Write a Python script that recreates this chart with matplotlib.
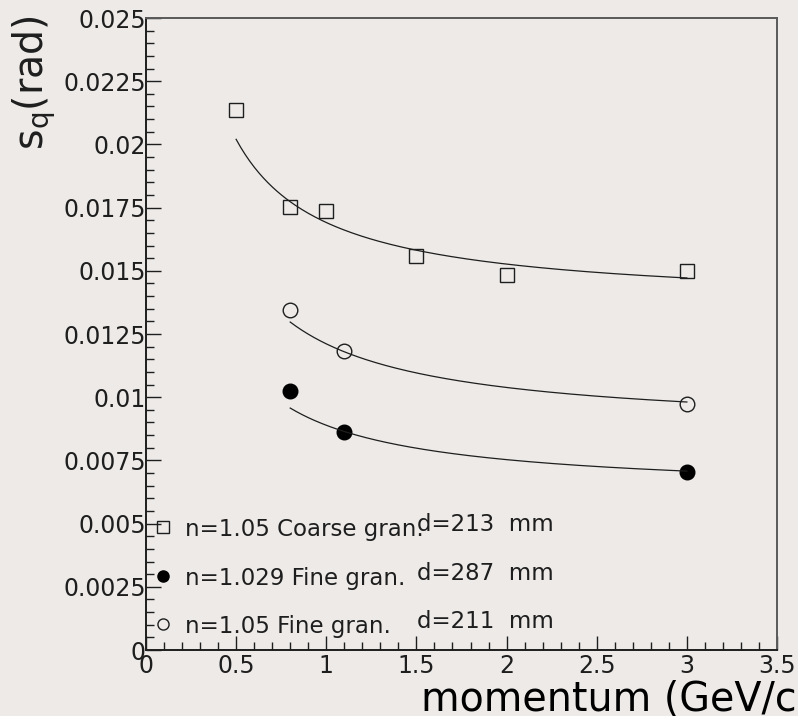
import numpy as np
import matplotlib
matplotlib.use("Agg")
import matplotlib.pyplot as plt
from matplotlib.ticker import MultipleLocator

plt.rcParams['font.family'] = ['DejaVu Sans']
plt.rcParams['mathtext.default'] = 'regular'

# measured resolution vs momentum
p_coarse = [0.5, 0.8, 1.0, 1.5, 2.0, 3.0]
s_coarse = [0.02135, 0.01752, 0.01737, 0.01559, 0.01483, 0.01500]

p_fine105 = [0.8, 1.1, 3.0]
s_fine105 = [0.01345, 0.01183, 0.00975]

p_fine1029 = [0.8, 1.1, 3.0]
s_fine1029 = [0.01025, 0.00864, 0.00705]

# fits s = a + b/p over the measured range
fit_a = [0.01362, 0.00866, 0.00617]
fit_b = [0.00329, 0.00345, 0.00272]
fit_range = [(0.5, 3.0), (0.8, 3.0), (0.8, 3.0)]

legend_labels = ["n=1.05 Coarse gran.", "n=1.029 Fine gran.", "n=1.05 Fine gran."]
legend_d = ["d=213  mm", "d=287  mm", "d=211  mm"]

xticks = [0, 0.5, 1, 1.5, 2, 2.5, 3, 3.5]
xtick_labels = ['0', '0.5', '1', '1.5', '2', '2.5', '3', '3.5']
yticks = [0, 0.0025, 0.005, 0.0075, 0.01, 0.0125, 0.015, 0.0175, 0.02, 0.0225, 0.025]
ytick_labels = ['0', '0.0025', '0.005', '0.0075', '0.01', '0.0125', '0.015',
                '0.0175', '0.02', '0.0225', '0.025']

bg = '#edeae8'
ink = '#1e1e1e'
fig = plt.figure(figsize=(7.98, 7.16), dpi=100, facecolor=bg)
ax = fig.add_axes([146/798, 1 - 650/716, (777 - 146)/798, (650 - 18)/716])
ax.set_facecolor(bg)

ax.plot(p_coarse, s_coarse, ls='none', marker='s', ms=10.5, mfc='none',
        mec=ink, mew=1.0)
ax.plot(p_fine105, s_fine105, ls='none', marker='o', ms=10.5, mfc='none',
        mec=ink, mew=1.0)
ax.plot(p_fine1029, s_fine1029, ls='none', marker='o', ms=10.5, mfc='black',
        mec='black', mew=1.0)

for a, b, (lo, hi) in zip(fit_a, fit_b, fit_range):
    p = np.linspace(lo, hi, 200)
    ax.plot(p, a + b / p, color=ink, lw=0.9)

ax.set_xlim(0, 3.5)
ax.set_ylim(0, 0.025)
ax.set_xticks(xticks)
ax.set_xticklabels(xtick_labels)
ax.set_yticks(yticks)
ax.set_yticklabels(ytick_labels)
ax.xaxis.set_minor_locator(MultipleLocator(0.1))
ax.yaxis.set_minor_locator(MultipleLocator(0.0005))

ax.tick_params(which='both', direction='in', color=ink, width=1.0,
               labelsize=17, labelcolor=ink)
ax.tick_params(axis='x', which='major', length=10, pad=3)
ax.tick_params(axis='y', which='major', length=11, pad=0)
ax.tick_params(which='minor', length=5.5)

for side in ['left', 'bottom']:
    ax.spines[side].set_color(ink)
    ax.spines[side].set_linewidth(1.4)
for side in ['top', 'right']:
    ax.spines[side].set_color('#5a5a5a')
    ax.spines[side].set_linewidth(1.4)

fig.text(421/798, 1 - 711/716, 'momentum (GeV/c)', fontsize=28.5, color='black',
         ha='left', va='baseline')
fig.text(11/798, 1 - 15/716, 's$_{q}$(rad)', fontsize=28.5, color=ink,
         rotation=90, ha='left', va='top')

# legend drawn inside the frame
leg_y = [0.00488, 0.00292, 0.00103]
leg_marker = [dict(marker='s', mfc='none', mec=ink),
              dict(marker='o', mfc='black', mec='black'),
              dict(marker='o', mfc='none', mec=ink)]
for y, lab, d, mk in zip(leg_y, legend_labels, legend_d, leg_marker):
    ax.plot([0.095], [y], ls='none', ms=8, mew=1.0, **mk, clip_on=False)
    ax.text(0.215, y - 0.0001, lab, fontsize=16.5, color=ink, va='center', ha='left')
    ax.text(1.505, y + 0.0001, d, fontsize=16.5, color=ink, va='center', ha='left')

fig.savefig('out.png', dpi=100, facecolor=bg)
